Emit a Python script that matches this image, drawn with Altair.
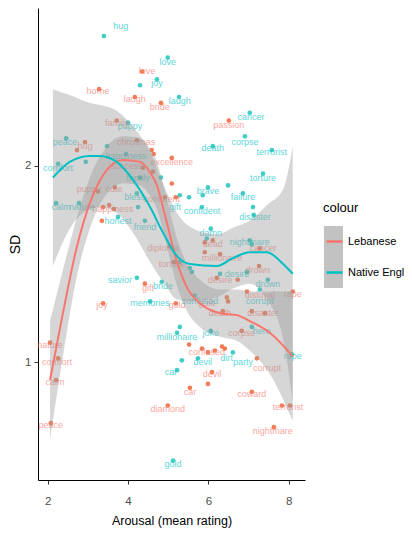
import altair as alt
import pandas as pd

groups = ["Lebanese", "Native English"]
band_keys = ["Lebanese band", "Native English band"]

# ---- scatter points (jittered positions) ----
ne_pt_x = [3.40, 4.99, 4.72, 4.30, 5.27, 4.00, 2.46, 3.48, 3.95, 2.26, 2.95, 6.11, 7.03, 6.91, 7.58,
           7.36, 6.49, 5.99, 5.86, 6.86, 7.11, 4.82, 4.30, 5.29, 5.52, 5.84, 7.13, 6.06, 5.96, 7.03,
           7.08, 5.29, 5.54, 6.96, 7.48, 7.28, 5.59, 2.21, 2.78, 3.75, 4.25, 4.22, 4.42, 4.22, 4.55,
           4.84, 5.29, 5.22, 5.34, 5.22, 6.06, 7.08, 5.74, 6.61, 8.08, 5.12, 5.66, 6.29]
ne_pt_y = [2.66, 2.55, 2.44, 2.41, 2.35, 2.22, 2.14, 2.10, 2.06, 2.01, 2.02, 2.10, 2.27, 2.15, 2.08,
           1.96, 1.90, 1.89, 1.85, 1.86, 1.79, 1.94, 1.94, 1.85, 1.84, 1.79, 1.75, 1.68, 1.63, 1.62,
           1.60, 1.51, 1.48, 1.46, 1.42, 1.37, 1.46, 1.81, 1.81, 1.74, 1.79, 1.86, 1.72, 1.43, 1.31,
           1.41, 1.18, 1.15, 1.01, 0.96, 1.16, 1.18, 1.02, 1.05, 1.04, 0.50, 1.34, 1.45]
leb_pt_x = [4.35, 3.28, 4.17, 4.82, 3.72, 2.73, 2.93, 4.22, 4.59, 4.64, 5.09, 6.51, 4.37, 4.62, 5.09,
            4.92, 5.19, 3.67, 3.25, 3.38, 3.53, 3.65, 3.35, 5.04, 5.14, 5.91, 6.11, 7.28, 6.29, 5.91,
            7.26, 6.21, 6.73, 6.96, 8.10, 6.46, 6.49, 6.36, 7.08, 7.41, 4.42, 5.19, 3.38, 2.06, 2.26,
            2.21, 2.08, 5.52, 5.84, 5.99, 6.16, 6.34, 6.41, 7.21, 6.09, 5.99, 5.54, 7.08, 7.83, 8.03,
            7.63, 4.99, 6.83]
leb_pt_y = [2.48, 2.39, 2.35, 2.32, 2.23, 2.08, 2.12, 2.13, 2.08, 2.06, 2.04, 2.23, 1.99, 1.97, 1.91,
            1.84, 1.84, 1.89, 1.87, 1.79, 1.80, 1.78, 1.72, 1.59, 1.51, 1.61, 1.62, 1.58, 1.55, 1.56,
            1.49, 1.43, 1.42, 1.36, 1.36, 1.33, 1.31, 1.26, 1.26, 1.25, 1.40, 1.30, 1.30, 1.10, 1.02,
            0.91, 0.69, 1.09, 1.07, 1.05, 1.06, 1.08, 1.07, 1.02, 0.95, 0.89, 0.87, 0.85, 0.78, 0.78,
            0.67, 0.78, 1.16]

# ---- word labels (jittered separately) ----
ne_words = ["hug", "love", "joy", "laugh", "puppy", "peace", "happiness", "comfort", "death", "cancer",
            "corpse", "terrorist", "torture", "brave", "failure", "family", "gift", "confident",
            "disaster", "damn", "nightmare", "desire", "drown", "corrupt", "calm", "nature", "honest",
            "bless", "friend", "savior", "bride", "memories", "confused", "millionaire", "joke", "hero",
            "devil", "dirt", "party", "car", "rape", "gold"]
ne_lab_x = [3.82, 4.99, 4.72, 5.29, 4.05, 2.43, 3.95, 2.26, 6.11, 7.06, 6.91, 7.58, 7.36, 5.99, 6.86,
            4.25, 5.17, 5.84, 7.16, 6.06, 7.03, 6.71, 7.48, 7.28, 2.33, 2.85, 3.75, 4.17, 4.42, 3.80,
            4.87, 4.55, 5.79, 5.22, 6.06, 7.33, 5.86, 6.46, 6.86, 5.07, 8.10, 5.12]
ne_lab_y = [2.71, 2.53, 2.42, 2.33, 2.20, 2.12, 2.05, 1.99, 2.09, 2.25, 2.12, 2.07, 1.94, 1.87, 1.84,
            1.94, 1.79, 1.77, 1.74, 1.66, 1.61, 1.45, 1.40, 1.31, 1.79, 1.79, 1.72, 1.84, 1.69, 1.42,
            1.39, 1.30, 1.31, 1.13, 1.15, 1.16, 1.00, 1.02, 1.00, 0.95, 1.03, 0.48]
leb_words = ["love", "home", "laugh", "bride", "family", "hug", "christmas", "excellence", "passion",
             "success", "puppy", "cute", "happiness", "confident", "diploma", "torture", "dead", "cancer",
             "millionaire", "drown", "desire", "disloyal", "rape", "guilt", "death", "disaster", "corpse",
             "confused", "corrupt", "devil", "car", "coward", "terrorist", "nightmare", "diamond", "gift",
             "gold", "joy", "nature", "comfort", "calm", "peace"]
leb_lab_x = [4.47, 3.25, 4.17, 4.79, 3.72, 2.93, 4.20, 5.09, 6.51, 3.97, 3.03, 3.65, 3.62, 4.84, 4.87,
             5.09, 6.11, 7.36, 6.34, 7.23, 6.29, 7.28, 8.10, 5.96, 6.29, 7.36, 6.83, 5.96, 7.46, 6.09,
             5.54, 7.08, 7.98, 7.60, 4.99, 4.50, 5.22, 3.35, 2.06, 2.23, 2.18, 2.08]
leb_lab_y = [2.48, 2.38, 2.34, 2.30, 2.22, 2.10, 2.12, 2.02, 2.21, 2.00, 1.88, 1.88, 1.78, 1.83, 1.58,
             1.50, 1.60, 1.58, 1.53, 1.47, 1.42, 1.34, 1.35, 1.30, 1.25, 1.25, 1.15, 1.05, 0.97, 0.94,
             0.85, 0.84, 0.77, 0.65, 0.76, 1.38, 1.29, 1.29, 1.09, 1.00, 0.90, 0.68]

# ---- smoothed curves with confidence band ----
ne_fit_x = [2.13, 2.55, 3.05, 3.30, 3.72, 4.12, 4.55, 4.87, 5.22, 5.54, 6.21, 6.61, 7.03, 7.46, 7.86, 8.10]
ne_fit = [1.94, 2.02, 2.05, 2.05, 2.02, 1.93, 1.79, 1.66, 1.54, 1.50, 1.49, 1.53, 1.56, 1.56, 1.50, 1.45]
ne_lo = [1.49, 1.68, 1.78, 1.79, 1.76, 1.66, 1.51, 1.41, 1.32, 1.31, 1.33, 1.375, 1.40, 1.32, 1.12, 0.80]
ne_hi = [2.39, 2.36, 2.32, 2.31, 2.28, 2.20, 2.07, 1.91, 1.76, 1.69, 1.65, 1.685, 1.72, 1.80, 1.88, 2.10]

leb_fit_x = [2.06, 2.38, 2.73, 3.05, 3.48, 3.87, 4.30, 4.54, 4.72, 4.92, 5.22, 5.47, 5.79, 6.29, 6.71,
             7.03, 7.53, 8.10]
leb_fit = [0.91, 1.25, 1.59, 1.81, 1.98, 2.03, 2.02, 1.97, 1.90, 1.75, 1.51, 1.38, 1.30, 1.25, 1.24,
           1.21, 1.15, 1.03]
leb_lo = [0.61, 1.03, 1.44, 1.68, 1.86, 1.91, 1.90, 1.85, 1.78, 1.63, 1.39, 1.26, 1.18, 1.13, 1.11,
          1.06, 0.94, 0.70]
leb_hi = [1.21, 1.47, 1.74, 1.94, 2.10, 2.15, 2.14, 2.09, 2.02, 1.87, 1.63, 1.50, 1.42, 1.37, 1.37,
          1.36, 1.36, 1.36]

# ---- tables ----
points = pd.concat([
    pd.DataFrame({"group": groups[0], "x": leb_pt_x, "y": leb_pt_y}),
    pd.DataFrame({"group": groups[1], "x": ne_pt_x, "y": ne_pt_y}),
])
labels = pd.concat([
    pd.DataFrame({"group": groups[0], "word": leb_words, "x": leb_lab_x, "y": leb_lab_y}),
    pd.DataFrame({"group": groups[1], "word": ne_words, "x": ne_lab_x, "y": ne_lab_y}),
])
fits = pd.concat([
    pd.DataFrame({"group": groups[0], "band": band_keys[0], "x": leb_fit_x, "fit": leb_fit,
                  "lower": leb_lo, "upper": leb_hi}),
    pd.DataFrame({"group": groups[1], "band": band_keys[1], "x": ne_fit_x, "fit": ne_fit,
                  "lower": ne_lo, "upper": ne_hi}),
])

FONT = "'Liberation Sans', Arial, sans-serif"

x_scale = alt.Scale(domain=[1.76, 8.405], nice=False, zero=False)
y_scale = alt.Scale(domain=[0.401, 2.803], nice=False, zero=False)

x_axis = alt.Axis(title="Arousal (mean rating)", values=[2, 4, 6, 8], grid=False,
                  domainColor="black", domainWidth=1, tickColor="#333333", tickSize=4,
                  labelPadding=11, labelColor="#4D4D4D", labelFontSize=11.5, labelFont=FONT,
                  labelFlush=False, titleFont=FONT, titleFontSize=12.5, titleFontWeight="normal",
                  titleColor="black", titlePadding=8)
y_axis = alt.Axis(title="SD", values=[1, 2], grid=False,
                  domainColor="black", domainWidth=1, tickColor="#333333", tickSize=4,
                  labelPadding=3, labelColor="#4D4D4D", labelFontSize=11.5, labelFont=FONT,
                  labelFlush=False, titleFont=FONT, titleFontSize=14, titleFontWeight="normal",
                  titleColor="black", titleX=-16)

X = alt.X("x:Q", scale=x_scale, axis=x_axis)

legend_common = dict(orient="none", legendX=285, legendY=194, title="colour",
                     titleFont=FONT, titleFontSize=13, titleFontWeight="normal", titleColor="black",
                     labelFont=FONT, labelFontSize=11, labelColor="black",
                     padding=0, labelOffset=2)

pts = alt.Chart(points).mark_circle(size=22, opacity=0.9).encode(
    x=X,
    y=alt.Y("y:Q", scale=y_scale, axis=y_axis),
    color=alt.Color("group:N", scale=alt.Scale(domain=groups, range=["#F36F45", "#2BC8C2"]), legend=None),
)

txt = alt.Chart(labels).mark_text(font=FONT, fontSize=9, opacity=0.65, baseline="middle").encode(
    x=X,
    y=alt.Y("y:Q", scale=y_scale, axis=y_axis),
    text="word:N",
    color=alt.Color("group:N", scale=alt.Scale(domain=groups, range=["#F8766D", "#00BFC4"]), legend=None),
)

band = alt.Chart(fits).mark_area(opacity=0.4, interpolate="monotone").encode(
    x=X,
    y=alt.Y("lower:Q", scale=y_scale, axis=y_axis),
    y2="upper:Q",
    fill=alt.Fill("band:N", scale=alt.Scale(domain=band_keys, range=["#999999", "#999999"]),
                  legend=alt.Legend(symbolType="M-0.94,-1H0.29V1H-0.94Z", symbolSize=961, rowPadding=0,
                                    titlePadding=11, symbolOpacity=0.6, symbolStrokeWidth=0,
                                    titleOpacity=0, labelExpr="''", zindex=1, **legend_common)),
)

line = alt.Chart(fits).mark_line(strokeWidth=2, interpolate="monotone").encode(
    x=X,
    y=alt.Y("fit:Q", scale=y_scale, axis=y_axis),
    stroke=alt.Stroke("group:N", scale=alt.Scale(domain=groups, range=["#F8766D", "#00BFC4"]),
                      legend=alt.Legend(symbolType="M-0.8,0H0.8", symbolSize=400, rowPadding=14,
                                        titlePadding=15, symbolStrokeWidth=2.5, zindex=2,
                                        **legend_common)),
)

chart = alt.layer(pts, txt, band, line).resolve_scale(color="independent").properties(
    width=267, height=472,
    padding={"left": 30, "top": 0, "right": 99, "bottom": 50},
    autosize=alt.AutoSizeParams(type="none"),
    background="white",
).configure_view(stroke=None)

chart.save("out.html", embed_options={"renderer": "svg", "actions": False})
